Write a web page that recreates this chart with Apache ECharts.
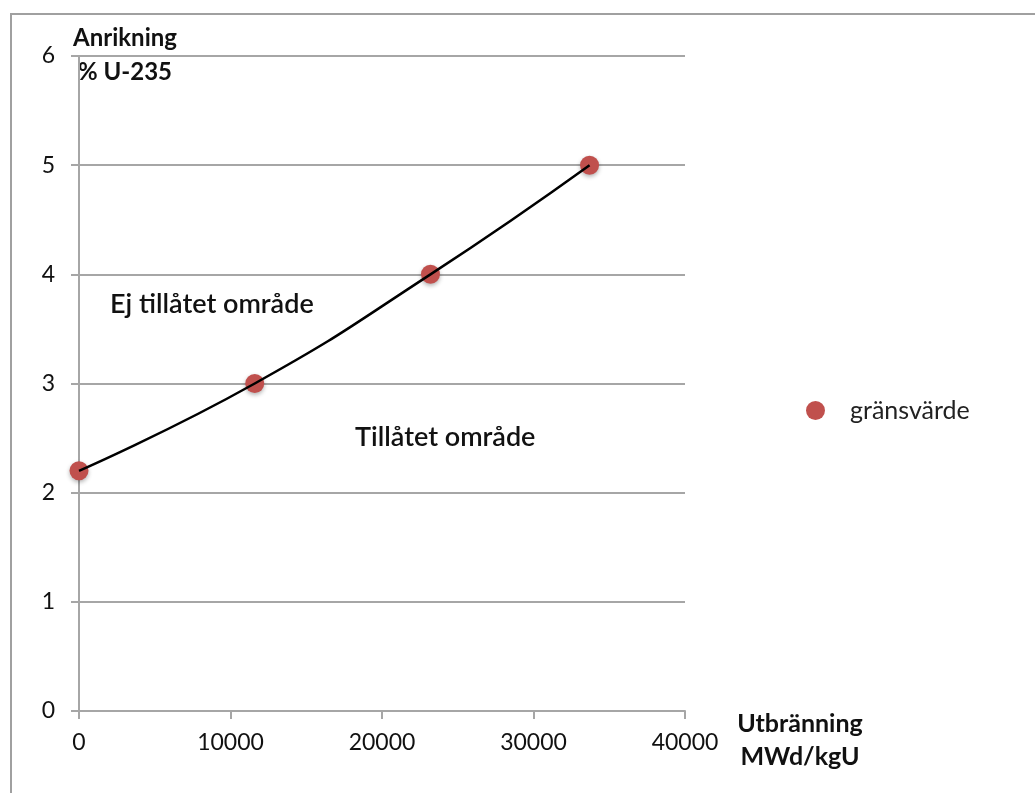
<!DOCTYPE html>
<html>
  <head>
    <title></title>
    <meta charset="UTF-8" />
    <script src="https://cdn.jsdelivr.net/npm/echarts@6/dist/echarts.min.js"></script>
    <style>
      body { margin: 0; background: #fff; }
    </style>
  </head>
  <body>
    <div id="main"></div>
    <script>
      const width = 1035;
      const height = 793;
      const main = document.getElementById('main');
      main.style.width = `${width}px`;
      main.style.height = `${height}px`;

      // utbränning (MWd/kgU) vs anrikning (% U-235)
      const burnup = [0, 11600, 23200, 33700];
      const enrichment = [2.2, 3.0, 4.0, 5.0];
      const seriesName = 'gränsvärde';
      const points = burnup.map((x, i) => [x, enrichment[i]]);

      const font = 'Lato, "Open Sans", sans-serif';
      const gray = '#a6a6a6';

      const myChart = echarts.init(main);
      const option = {
        animation: false,
        backgroundColor: '#fff',
        textStyle: { fontFamily: font },
        grid: { left: 79, right: 350, top: 56, bottom: 82 },
        legend: {
          left: 801,
          top: 393,
          itemWidth: 19,
          itemHeight: 19,
          icon: 'circle',
          textStyle: { fontSize: 25, color: '#222', fontFamily: font, padding: [0, 0, 0, 20] },
          data: [seriesName]
        },
        xAxis: {
          type: 'value',
          min: 0,
          max: 40000,
          interval: 10000,
          axisLine: { lineStyle: { color: gray, width: 2 } },
          axisTick: { show: true, length: 8, lineStyle: { color: gray, width: 2 } },
          axisLabel: { fontSize: 23, color: '#111', margin: 20, fontFamily: font, formatter: v => String(v) },
          splitLine: { show: false }
        },
        yAxis: {
          type: 'value',
          min: 0,
          max: 6,
          interval: 1,
          axisLine: { show: true, lineStyle: { color: gray, width: 2 } },
          axisTick: { show: true, length: 8, lineStyle: { color: gray, width: 2 } },
          axisLabel: { fontSize: 23, color: '#111', margin: 24, fontFamily: font },
          splitLine: { lineStyle: { color: gray, width: 2 } }
        },
        graphic: [
          {
            type: 'rect',
            silent: true,
            shape: { x: 11, y: 14, width: 1100, height: 900 },
            style: { fill: 'none', stroke: '#a0a0a0', lineWidth: 2 }
          },
          { type: 'text', x: 125, y: 38, style: { text: 'Anrikning', textAlign: 'center', textVerticalAlign: 'middle', font: `bold 24px ${font}`, fill: '#111' } },
          { type: 'text', x: 125, y: 72, style: { text: '% U-235', textAlign: 'center', textVerticalAlign: 'middle', font: `bold 24px ${font}`, fill: '#111' } },
          { type: 'text', x: 800, y: 724, style: { text: 'Utbränning', textAlign: 'center', textVerticalAlign: 'middle', font: `bold 25px ${font}`, fill: '#111' } },
          { type: 'text', x: 800, y: 757, style: { text: 'MWd/kgU', textAlign: 'center', textVerticalAlign: 'middle', font: `bold 25px ${font}`, fill: '#111' } },
          { type: 'text', x: 110, y: 304, style: { text: 'Ej tillåtet område', textAlign: 'left', textVerticalAlign: 'middle', font: `600 27px ${font}`, fill: '#111' } },
          { type: 'text', x: 355, y: 437, style: { text: 'Tillåtet område', textAlign: 'left', textVerticalAlign: 'middle', font: `600 27px ${font}`, fill: '#111' } }
        ],
        series: [
          {
            name: 'trend',
            type: 'line',
            smooth: true,
            symbol: 'none',
            silent: true,
            lineStyle: { color: '#000', width: 2.5 },
            data: points,
            z: 3
          },
          {
            name: seriesName,
            type: 'scatter',
            symbol: 'circle',
            symbolSize: 19,
            itemStyle: {
              color: '#c0504d',
              opacity: 1,
              shadowColor: 'rgba(0,0,0,0.3)',
              shadowBlur: 4,
              shadowOffsetY: 2
            },
            data: points,
            z: 2
          }
        ]
      };
      myChart.setOption(option);
    </script>
  </body>
</html>
